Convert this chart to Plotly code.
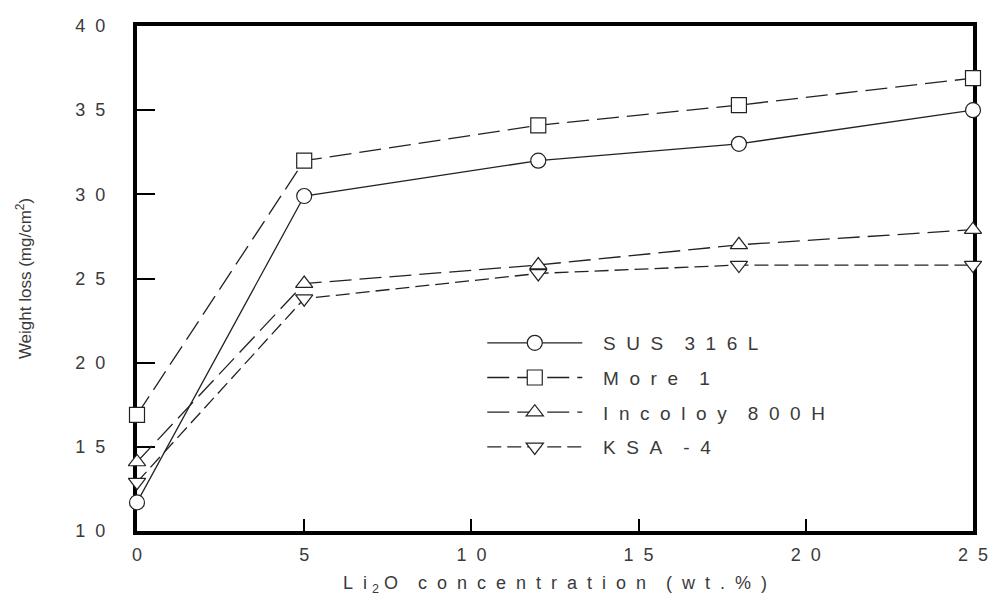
import plotly.graph_objects as go

NB = "\u00a0"


def spaced(s, gap=2, word_gap=4):
    """Letter-space a label with non-breaking spaces."""
    words = s.split(" ")
    return (NB * word_gap).join((NB * gap).join(w) for w in words)


# Li2O concentration (wt.%)
li2o = [0, 5, 12, 18, 25]

# Weight loss (mg/cm^2) per alloy
sus316l = [11.7, 29.9, 32.0, 33.0, 35.0]
more1 = [16.9, 32.0, 34.1, 35.3, 36.9]
incoloy800h = [14.1, 24.7, 25.8, 27.0, 27.9]
ksa4 = [12.9, 23.8, 25.3, 25.8, 25.8]

labels = ["SUS 316L", "More 1", "Incoloy 800H", "KSA -4"]
series = [sus316l, more1, incoloy800h, ksa4]
symbols = ["circle", "square", "triangle-up", "triangle-down"]
dashes = ["solid", "22px,8px", "22px,8px", "14px,6px"]

x_ticks = [0, 5, 10, 15, 20, 25]
x_ticktext = ["0", "5", "10", "15", "20", "25"]
y_ticks = [10, 15, 20, 25, 30, 35, 40]
y_ticktext = ["10", "15", "20", "25", "30", "35", "40"]

fig = go.Figure()
for i, (name, ys, sym, dash) in enumerate(zip(labels, series, symbols, dashes)):
    fig.add_trace(go.Scatter(
        x=li2o, y=ys, name=NB * 3 + spaced(name), mode="lines+markers",
        line=dict(color="#222222", width=1.3, dash=dash),
        marker=dict(symbol=sym, size=15, color="white",
                    line=dict(color="#222222", width=1.2)),
        cliponaxis=False, legendgroup=str(i),
    ))

text_color = "#3a3a3a"
x_title = (spaced("Li") + NB + "<sub>2</sub>" + NB + "O" + NB * 4
           + spaced("concentration") + NB * 4 + spaced("(wt.%)", gap=2))

fig.update_layout(
    width=989, height=604,
    margin=dict(l=137, r=16, t=26, b=73),
    paper_bgcolor="white", plot_bgcolor="white",
    font=dict(family="Liberation Sans, Arial, sans-serif", color=text_color, size=18),
    showlegend=True,
    legend=dict(
        x=0.413, y=0.41, xanchor="left", yanchor="top",
        bgcolor="rgba(0,0,0,0)", itemwidth=95, tracegroupgap=7,
        font=dict(size=19, color=text_color),
    ),
    xaxis=dict(
        range=[0, 25], tickvals=x_ticks, ticktext=[spaced(t) for t in x_ticktext],
        showgrid=False, zeroline=False, automargin=False,
        showline=True, linecolor="black", linewidth=4, mirror=True,
        ticks="inside", ticklen=12, tickwidth=2, tickcolor="black",
        ticklabelstandoff=4,
        layer="below traces",
        title=dict(text=x_title, font=dict(size=18, color=text_color), standoff=14),
    ),
    yaxis=dict(
        range=[10, 40], tickvals=y_ticks, ticktext=[spaced(t) for t in y_ticktext],
        showgrid=False, zeroline=False, automargin=False,
        showline=True, linecolor="black", linewidth=4, mirror=True,
        ticks="inside", ticklen=18, tickwidth=2, tickcolor="black",
        ticklabelstandoff=24,
        layer="below traces",
        title=dict(text="Weight loss (mg/cm<sup>2</sup>)",
                   font=dict(size=17, color=text_color), standoff=40),
    ),
)

fig.write_html("out.html")
